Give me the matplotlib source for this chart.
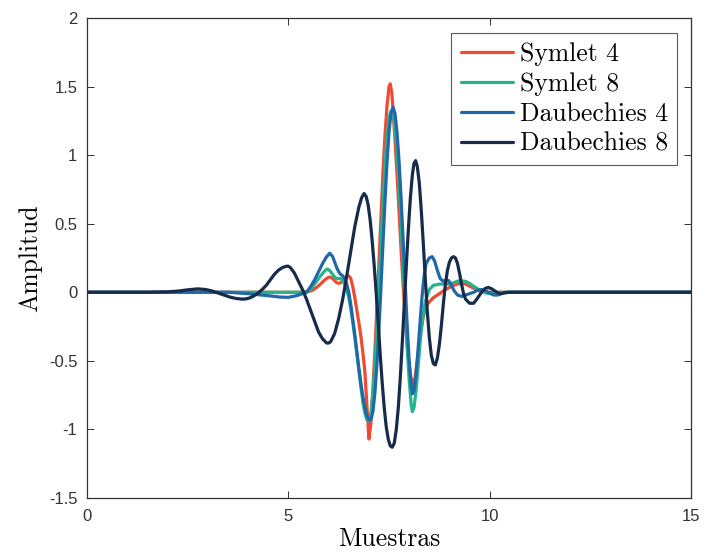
import matplotlib
matplotlib.use("Agg")
import matplotlib.pyplot as plt

# ---- data ----
sym4_x = [0, 5.4, 5.5, 5.6, 5.7, 5.8, 5.9, 6.0, 6.05, 6.1, 6.15, 6.2, 6.25, 6.3, 6.35, 6.4, 6.45,
          6.5, 6.55, 6.6, 6.65, 6.7, 6.75, 6.8, 6.85, 6.9, 6.95, 7.0, 7.05, 7.1, 7.15, 7.2, 7.25,
          7.3, 7.35, 7.4, 7.45, 7.5, 7.53, 7.57, 7.6, 7.65, 7.7, 7.75, 7.8, 7.85, 7.9, 7.95, 8.0,
          8.05, 8.1, 8.15, 8.2, 8.25, 8.3, 8.35, 8.4, 8.45, 8.5, 8.6, 8.7, 8.8, 8.9, 9.0, 9.1,
          9.2, 9.3, 9.4, 9.5, 9.6, 9.7, 9.8, 10.0, 15]
sym4_y = [0, 0, 0.005, 0.015, 0.035, 0.06, 0.09, 0.11, 0.11, 0.1, 0.085, 0.07, 0.065, 0.07, 0.085, 0.1, 0.115,
          0.12, 0.1, 0.04, -0.04, -0.13, -0.22, -0.32, -0.44, -0.58, -0.82, -1.07, -0.95, -0.7, -0.42, -0.1, 0.22,
          0.55, 0.88, 1.15, 1.36, 1.5, 1.52, 1.45, 1.33, 1.1, 0.85, 0.58, 0.3, 0.05, -0.18, -0.38, -0.53,
          -0.63, -0.67, -0.62, -0.5, -0.38, -0.27, -0.18, -0.12, -0.09, -0.07, -0.04, -0.02, 0.0, 0.02, 0.035, 0.05,
          0.06, 0.065, 0.06, 0.045, 0.03, 0.015, 0.005, 0, 0]

sym8_x = [0, 5.4, 5.5, 5.6, 5.7, 5.8, 5.9, 5.96, 6.0, 6.05, 6.1, 6.15, 6.2, 6.25, 6.3, 6.35, 6.4,
          6.45, 6.5, 6.55, 6.6, 6.65, 6.7, 6.75, 6.8, 6.85, 6.9, 6.95, 7.0, 7.05, 7.1, 7.15, 7.2,
          7.25, 7.3, 7.35, 7.4, 7.45, 7.5, 7.55, 7.6, 7.65, 7.7, 7.75, 7.8, 7.85, 7.9, 7.95, 8.0,
          8.05, 8.08, 8.12, 8.17, 8.22, 8.27, 8.32, 8.4, 8.5, 8.6, 8.75, 8.9, 9.0, 9.1, 9.25, 9.4,
          9.5, 9.6, 9.7, 9.8, 9.9, 10.0, 10.1, 10.25, 15]
sym8_y = [0, 0, 0.01, 0.04, 0.08, 0.12, 0.155, 0.17, 0.165, 0.15, 0.13, 0.11, 0.1, 0.1, 0.1, 0.09, 0.06,
          0.02, -0.04, -0.12, -0.22, -0.33, -0.45, -0.57, -0.69, -0.8, -0.88, -0.93, -0.94, -0.88, -0.74, -0.52, -0.26,
          0.04, 0.35, 0.65, 0.92, 1.13, 1.27, 1.32, 1.3, 1.2, 1.02, 0.78, 0.5, 0.2, -0.1, -0.4, -0.64,
          -0.82, -0.87, -0.84, -0.72, -0.55, -0.37, -0.22, -0.07, 0.02, 0.05, 0.06, 0.06, 0.06, 0.07, 0.085, 0.08,
          0.065, 0.045, 0.025, 0.01, -0.005, -0.01, -0.01, 0, 0]

db4_x = [0, 3.5, 4.0, 4.5, 4.8, 5.0, 5.2, 5.35, 5.45, 5.55, 5.65, 5.75, 5.85, 5.95, 6.03, 6.1, 6.15,
         6.2, 6.25, 6.3, 6.35, 6.4, 6.45, 6.5, 6.55, 6.6, 6.65, 6.7, 6.75, 6.8, 6.85, 6.9, 6.95,
         7.0, 7.05, 7.1, 7.15, 7.2, 7.25, 7.3, 7.35, 7.4, 7.45, 7.5, 7.55, 7.6, 7.65, 7.7, 7.75,
         7.8, 7.85, 7.9, 7.95, 8.0, 8.05, 8.08, 8.12, 8.17, 8.22, 8.27, 8.32, 8.37, 8.42, 8.5, 8.57,
         8.63, 8.7, 8.77, 8.85, 8.92, 8.98, 9.05, 9.12, 9.2, 9.3, 9.4, 9.5, 9.6, 9.7, 9.8, 9.9,
         10.0, 10.1, 10.2, 10.3, 10.4, 15]
db4_y = [0, 0, -0.01, -0.025, -0.035, -0.037, -0.025, -0.01, 0.0, 0.04, 0.09, 0.15, 0.21, 0.26, 0.285, 0.26, 0.22,
         0.18, 0.15, 0.13, 0.12, 0.1, 0.06, 0.0, -0.09, -0.2, -0.31, -0.43, -0.55, -0.66, -0.76, -0.84, -0.9,
         -0.93, -0.93, -0.87, -0.73, -0.52, -0.26, 0.04, 0.36, 0.67, 0.95, 1.17, 1.31, 1.35, 1.3, 1.16, 0.95,
         0.68, 0.38, 0.07, -0.24, -0.5, -0.68, -0.74, -0.72, -0.6, -0.42, -0.22, -0.03, 0.12, 0.21, 0.25, 0.26,
         0.23, 0.16, 0.1, 0.08, 0.09, 0.085, 0.05, 0.01, -0.02, -0.03, -0.02, -0.01, 0.0, 0.015, 0.02, 0.01,
         -0.005, -0.02, -0.02, -0.01, 0, 0]

db8_x = [0, 1.5, 2.0, 2.3, 2.5, 2.75, 2.95, 3.1, 3.25, 3.4, 3.55, 3.7, 3.85, 3.95, 4.05, 4.15, 4.25,
         4.35, 4.45, 4.55, 4.65, 4.75, 4.85, 4.95, 5.0, 5.05, 5.15, 5.25, 5.35, 5.45, 5.55, 5.65, 5.75,
         5.85, 5.95, 6.0, 6.05, 6.15, 6.25, 6.35, 6.45, 6.55, 6.65, 6.75, 6.82, 6.88, 6.93, 6.98, 7.03,
         7.08, 7.13, 7.18, 7.23, 7.28, 7.33, 7.38, 7.43, 7.48, 7.53, 7.58, 7.63, 7.68, 7.73, 7.78, 7.83,
         7.88, 7.93, 7.98, 8.03, 8.08, 8.12, 8.16, 8.2, 8.25, 8.3, 8.35, 8.4, 8.45, 8.5, 8.55, 8.6,
         8.65, 8.7, 8.75, 8.8, 8.85, 8.9, 8.95, 9.0, 9.05, 9.1, 9.15, 9.2, 9.25, 9.3, 9.35, 9.4,
         9.5, 9.6, 9.68, 9.75, 9.82, 9.9, 9.97, 10.05, 10.15, 10.25, 10.35, 10.5, 15]
db8_y = [0, 0, 0.003, 0.01, 0.018, 0.025, 0.02, 0.01, -0.005, -0.02, -0.035, -0.045, -0.05, -0.048, -0.04, -0.025, -0.005,
         0.02, 0.05, 0.09, 0.13, 0.16, 0.18, 0.19, 0.19, 0.18, 0.14, 0.08, 0.02, -0.05, -0.13, -0.21, -0.29,
         -0.34, -0.37, -0.37, -0.36, -0.3, -0.19, -0.05, 0.12, 0.3, 0.48, 0.62, 0.69, 0.72, 0.7, 0.64, 0.53,
         0.38, 0.2, 0.0, -0.22, -0.45, -0.66, -0.84, -0.98, -1.07, -1.12, -1.13, -1.1, -1.0, -0.84, -0.62, -0.36,
         -0.08, 0.2, 0.46, 0.69, 0.86, 0.94, 0.96, 0.92, 0.8, 0.6, 0.36, 0.1, -0.14, -0.33, -0.46, -0.52,
         -0.53, -0.48, -0.38, -0.24, -0.08, 0.06, 0.16, 0.22, 0.25, 0.26, 0.25, 0.21, 0.14, 0.06, -0.01, -0.05,
         -0.08, -0.08, -0.05, -0.02, 0.01, 0.03, 0.035, 0.025, 0.005, -0.01, -0.005, 0, 0]

labels = ["Symlet 4", "Symlet 8", "Daubechies 4", "Daubechies 8"]
colors = ["#ef4a32", "#23b48e", "#2068a8", "#172c4a"]

x_ticks = [0, 5, 10, 15]
y_ticks = [-1.5, -1, -0.5, 0, 0.5, 1, 1.5, 2]
y_ticklabels = ["-1.5", "-1", "-0.5", "0", "0.5", "1", "1.5", "2"]

# ---- figure ----
fig = plt.figure(figsize=(7.03, 5.54), dpi=100)
ax = fig.add_axes([0.1238, 0.1011, 0.8592, 0.8664])

series = [(sym4_x, sym4_y), (sym8_x, sym8_y), (db4_x, db4_y), (db8_x, db8_y)]
for (xs, ys), lab, c in zip(series, labels, colors):
    ax.plot(xs, ys, color=c, lw=2.3, label=lab, solid_joinstyle="round", solid_capstyle="round")

ax.set_xlim(0, 15)
ax.set_ylim(-1.5, 2)
ax.set_xticks(x_ticks)
ax.set_xticklabels([str(t) for t in x_ticks])
ax.set_yticks(y_ticks)
ax.set_yticklabels(y_ticklabels)

for lbl in ax.get_xticklabels() + ax.get_yticklabels():
    lbl.set_fontfamily(["Liberation Sans", "DejaVu Sans"])
    lbl.set_fontsize(12)
    lbl.set_color("#333333")

ax.tick_params(axis="x", pad=8)
ax.tick_params(axis="y", pad=7)
ax.tick_params(direction="in", length=5, width=0.7, colors="#333333", top=True, right=True,
               labelcolor="#333333")
for s in ax.spines.values():
    s.set_linewidth(0.9)
    s.set_color("#333333")

ax.set_xlabel("Muestras", fontfamily="cmr10", fontsize=18.5, labelpad=2)
ax.set_ylabel("Amplitud", fontfamily="cmr10", fontsize=18.5, labelpad=5)

leg = ax.legend(loc="upper right", bbox_to_anchor=(0.977, 0.969),
                prop=dict(family="cmr10", size=18.5), frameon=True,
                fancybox=False, edgecolor="#333333", handlelength=2.05, handletextpad=0.25,
                borderpad=0.36, labelspacing=0.24, borderaxespad=0.0)
leg.get_frame().set_linewidth(0.8)

fig.savefig("out.png", dpi=100)
